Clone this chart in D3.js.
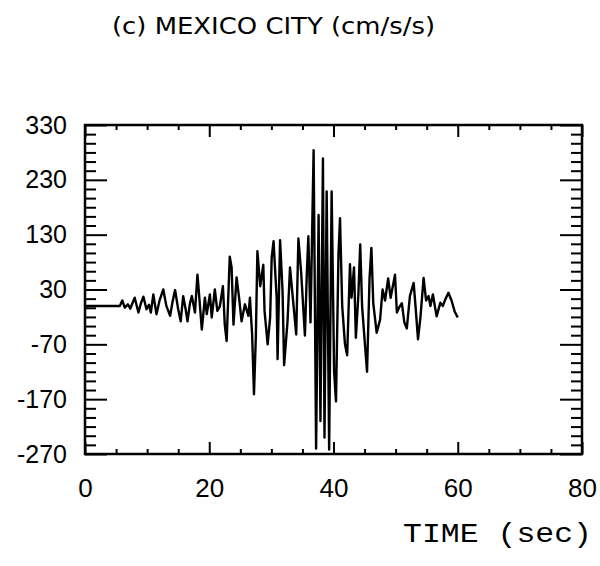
<!DOCTYPE html>
<html>
<head>
<meta charset="utf-8">
<script src="https://cdn.jsdelivr.net/npm/d3@7"></script>
<style>
  body { margin: 0; background: #fff; }
  svg { display: block; }
</style>
</head>
<body>
<div id="chart"></div>
<script>
// Data
const timeSec = [0, 5.6, 6.0, 6.4, 6.9, 7.3, 7.6, 8.0, 8.6, 9.0, 9.4, 9.9, 10.3, 10.6, 11.0, 11.5, 12.0, 12.6, 13.1, 13.7,
  14.1, 14.5, 15.0, 15.4, 15.8, 16.2, 16.5, 16.9, 17.2, 17.7, 18.1, 18.3, 18.8, 19.3, 19.6, 20.1, 20.4, 20.9, 21.3,
  21.7, 22.2, 22.5, 22.8, 23.3, 23.6, 23.9, 24.4, 24.8, 25.2, 25.75, 26.3, 26.55, 26.9, 27.2, 27.5,
  27.75, 28.2, 28.7, 28.9, 29.4, 29.8, 30.05, 30.35, 30.85, 31.0, 31.4, 31.8, 32.05, 32.6, 33.0, 33.5,
  34.0, 34.35, 34.8, 35.4, 35.7, 35.95, 36.3, 36.8, 37.2, 37.6, 37.9, 38.3, 38.55, 38.9, 39.3, 39.7,
  40.1, 40.4, 40.8, 41.05, 41.4, 41.85, 42.2, 42.65, 42.9, 43.3, 43.6, 44.0, 44.3, 44.6, 44.9, 45.4,
  45.8, 46.1, 46.4, 46.95, 47.5, 47.9, 48.3, 48.8, 49.2, 49.9, 50.2, 50.6, 51.0, 51.4, 51.8, 52.3,
  52.9, 53.2, 53.6, 54.0, 54.5, 54.9, 55.3, 55.6, 56.0, 56.6, 57.2, 57.6, 58.0, 58.5, 59.0, 59.5, 60.0];
const accel = [0, 0, 10, -3, 3, -5, 4, 15, -12, 5, 17, -6, 2, -12, 21, -15, 10, 30, 0, -18,
  8, 29, -6, -28, 18, -6, -28, 5, 18, -12, 57, 30, -43, 15, -15, 21, -21, 30, -9,
  -1, 36, -34, -64, 90, 70, -34, 52, 15, -28, 3, -18, 15, -52, -161, -56,
  100, 36, 75, -9, -70, -21, 88, 118, 15, -97, 120, 27, -108, -28, 70, 9,
  -52, 123, 60, -54, 57, 127, -30, 284, -260, 166, -210, 269, -240, 209, -262, 209,
  -120, -174, 94, 160, 0, -70, -90, 76, 15, 70, -58, 20, 112, 0, -46, -120,
  50, 106, 5, -49, -25, 30, 10, 50, 15, 57, -12, -2, 5, -30, -41, 18,
  42, 0, -61, -20, 51, 10, 18, 0, 21, -19, 6, 0, 12, 24, 10, -10, -21];

const title = '(c) MEXICO CITY (cm/s/s)';
const xLabel = 'TIME (sec)';
const xTicks = [0, 20, 40, 60, 80];
const yTicks = [330, 230, 130, 30, -70, -170, -270];

const W = 600, H = 566;
const svg = d3.select('#chart').append('svg').attr('width', W).attr('height', H);

const x = d3.scaleLinear().domain([0, 80]).range([85, 582]);
const y = d3.scaleLinear().domain([-270, 330]).range([454, 125]);

// minor tick positions: every 5 s, six steps per 100 cm/s/s
const xMinor = d3.range(0, 81, 5).filter(v => v % 20 !== 0);
const yMinor = d3.range(0, 37).filter(k => k % 6 !== 0).map(k => -270 + k * 100 / 6);

const plain = d => String(d);
const axisStyle = g => {
  g.select('.domain').remove();
  g.selectAll('line').attr('stroke', '#000').attr('stroke-width', 2);
};

// bottom / top
svg.append('g').attr('transform', `translate(0,${y(-270)})`)
  .call(d3.axisBottom(x).tickValues(xTicks).tickSize(-12).tickPadding(25).tickFormat(plain))
  .call(axisStyle)
  .call(g => g.selectAll('text').attr('font-family', 'Liberation Sans, sans-serif')
    .attr('font-size', 26).attr('fill', '#000'));
svg.append('g').attr('transform', `translate(0,${y(-270)})`)
  .call(d3.axisBottom(x).tickValues(xMinor).tickSize(-5).tickFormat(''))
  .call(axisStyle);
svg.append('g').attr('transform', `translate(0,${y(330)})`)
  .call(d3.axisTop(x).tickValues(xTicks).tickSize(-12).tickFormat(''))
  .call(axisStyle);
svg.append('g').attr('transform', `translate(0,${y(330)})`)
  .call(d3.axisTop(x).tickValues(xMinor).tickSize(-5).tickFormat(''))
  .call(axisStyle);

// left / right
svg.append('g').attr('transform', `translate(${x(0)},0)`)
  .call(d3.axisLeft(y).tickValues(yTicks).tickSize(-22).tickPadding(18).tickFormat(plain))
  .call(axisStyle)
  .call(g => g.selectAll('text').attr('font-family', 'Liberation Sans, sans-serif')
    .attr('font-size', 25).attr('fill', '#000'));
svg.append('g').attr('transform', `translate(${x(0)},0)`)
  .call(d3.axisLeft(y).tickValues(yMinor).tickSize(-11).tickFormat(''))
  .call(axisStyle);
svg.append('g').attr('transform', `translate(${x(80)},0)`)
  .call(d3.axisRight(y).tickValues(yTicks).tickSize(-22).tickFormat(''))
  .call(axisStyle);
svg.append('g').attr('transform', `translate(${x(80)},0)`)
  .call(d3.axisRight(y).tickValues(yMinor).tickSize(-11).tickFormat(''))
  .call(axisStyle);

// frame
svg.append('rect')
  .attr('x', x(0)).attr('y', y(330))
  .attr('width', x(80) - x(0)).attr('height', y(-270) - y(330))
  .attr('fill', 'none').attr('stroke', '#000').attr('stroke-width', 2.5);

// trace
const pts = timeSec.map((t, i) => ({ t, v: accel[i] }));
svg.append('path')
  .datum(pts)
  .attr('fill', 'none')
  .attr('stroke', '#000')
  .attr('stroke-width', 2.4)
  .attr('stroke-linejoin', 'round')
  .attr('d', d3.line().x(d => x(d.t)).y(d => y(d.v)));

// title
svg.append('text')
  .attr('x', 273.5).attr('y', 34)
  .attr('text-anchor', 'middle')
  .attr('font-family', 'DejaVu Sans, sans-serif')
  .attr('font-size', 23)
  .attr('textLength', 323).attr('lengthAdjust', 'spacingAndGlyphs')
  .attr('fill', '#000')
  .text(title);

// x axis title
svg.append('text')
  .attr('x', 592).attr('y', 542)
  .attr('text-anchor', 'end')
  .attr('font-family', 'Liberation Mono, monospace')
  .attr('font-size', 27)
  .attr('textLength', 189).attr('lengthAdjust', 'spacingAndGlyphs')
  .attr('fill', '#000')
  .text(xLabel);
</script>
</body>
</html>
